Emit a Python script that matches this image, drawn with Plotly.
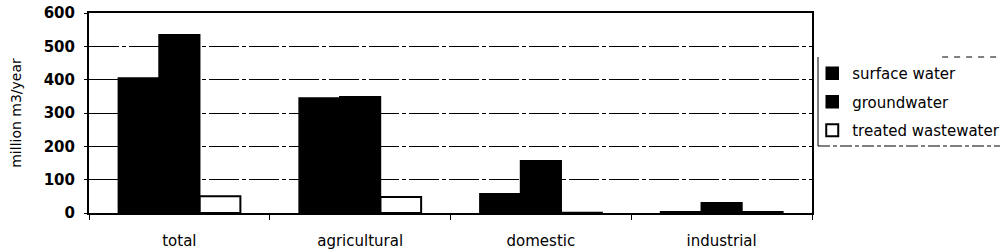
import plotly.graph_objects as go

categories = ["total", "agricultural", "domestic", "industrial"]
surface_water = [405, 345, 58, 4]
groundwater = [535, 349, 157, 31]
treated_wastewater = [50, 48, 1, 3]
y_ticks = [0, 100, 200, 300, 400, 500, 600]

FONT = "DejaVu Sans"

fig = go.Figure()
fig.add_trace(go.Bar(name="surface water", x=categories, y=surface_water,
                     marker=dict(color="black", line=dict(color="black", width=1.5)),
                     legendgroup="a"))
fig.add_trace(go.Bar(name="groundwater", x=categories, y=groundwater,
                     marker=dict(color="black", line=dict(color="black", width=1.5)),
                     legendgroup="b"))
fig.add_trace(go.Bar(name="treated wastewater", x=categories, y=treated_wastewater,
                     marker=dict(color="white", line=dict(color="black", width=2)),
                     legendgroup="c"))

fig.update_layout(
    width=1004, height=250,
    margin=dict(l=89, r=192, t=13, b=37),
    paper_bgcolor="white", plot_bgcolor="white",
    barmode="group", bargap=0.325, bargroupgap=0,
    font=dict(family=FONT, color="black", size=13),
    legend=dict(xref="container", x=0.809, xanchor="left",
                yref="paper", y=0.78, yanchor="top",
                font=dict(family=FONT, size=15, color="black"),
                tracegroupgap=6, borderwidth=0, bgcolor="rgba(0,0,0,0)"),
    showlegend=True,
)
fig.update_xaxes(
    automargin=False,
    showline=True, linecolor="black", linewidth=2, mirror=True,
    ticks="outside", tickson="boundaries", ticklen=5, tickcolor="black",
    tickfont=dict(family=FONT, size=15), ticklabelstandoff=13,
    showgrid=False,
)
fig.update_yaxes(
    automargin=False,
    range=[0, 600], tickvals=y_ticks,
    showline=True, linecolor="black", linewidth=2, mirror=True,
    ticks="outside", ticklen=3, tickcolor="black",
    tickfont=dict(family=FONT, size=15, weight="bold"), ticklabelstandoff=6,
    showgrid=True, gridcolor="black", gridwidth=1, griddash="30px,3px,4px,3px",
    zeroline=False,
    title=dict(text="million m3/year", font=dict(family=FONT, size=14), standoff=19),
)

# legend frame: solid left edge, dashed top and bottom
fig.add_shape(type="line", xref="paper", yref="paper", x0=1.0083, x1=1.0083, y0=0.335, y1=0.78,
              line=dict(color="black", width=1))
fig.add_shape(type="line", xref="paper", yref="paper", x0=1.0083, x1=1.26, y0=0.335, y1=0.335,
              line=dict(color="black", width=1, dash="12px,3px,4px,3px"))
fig.add_shape(type="line", xref="paper", yref="paper", x0=1.18, x1=1.26, y0=0.78, y1=0.78,
              line=dict(color="black", width=1, dash="6px,6px"))

fig.write_html("out.html")
